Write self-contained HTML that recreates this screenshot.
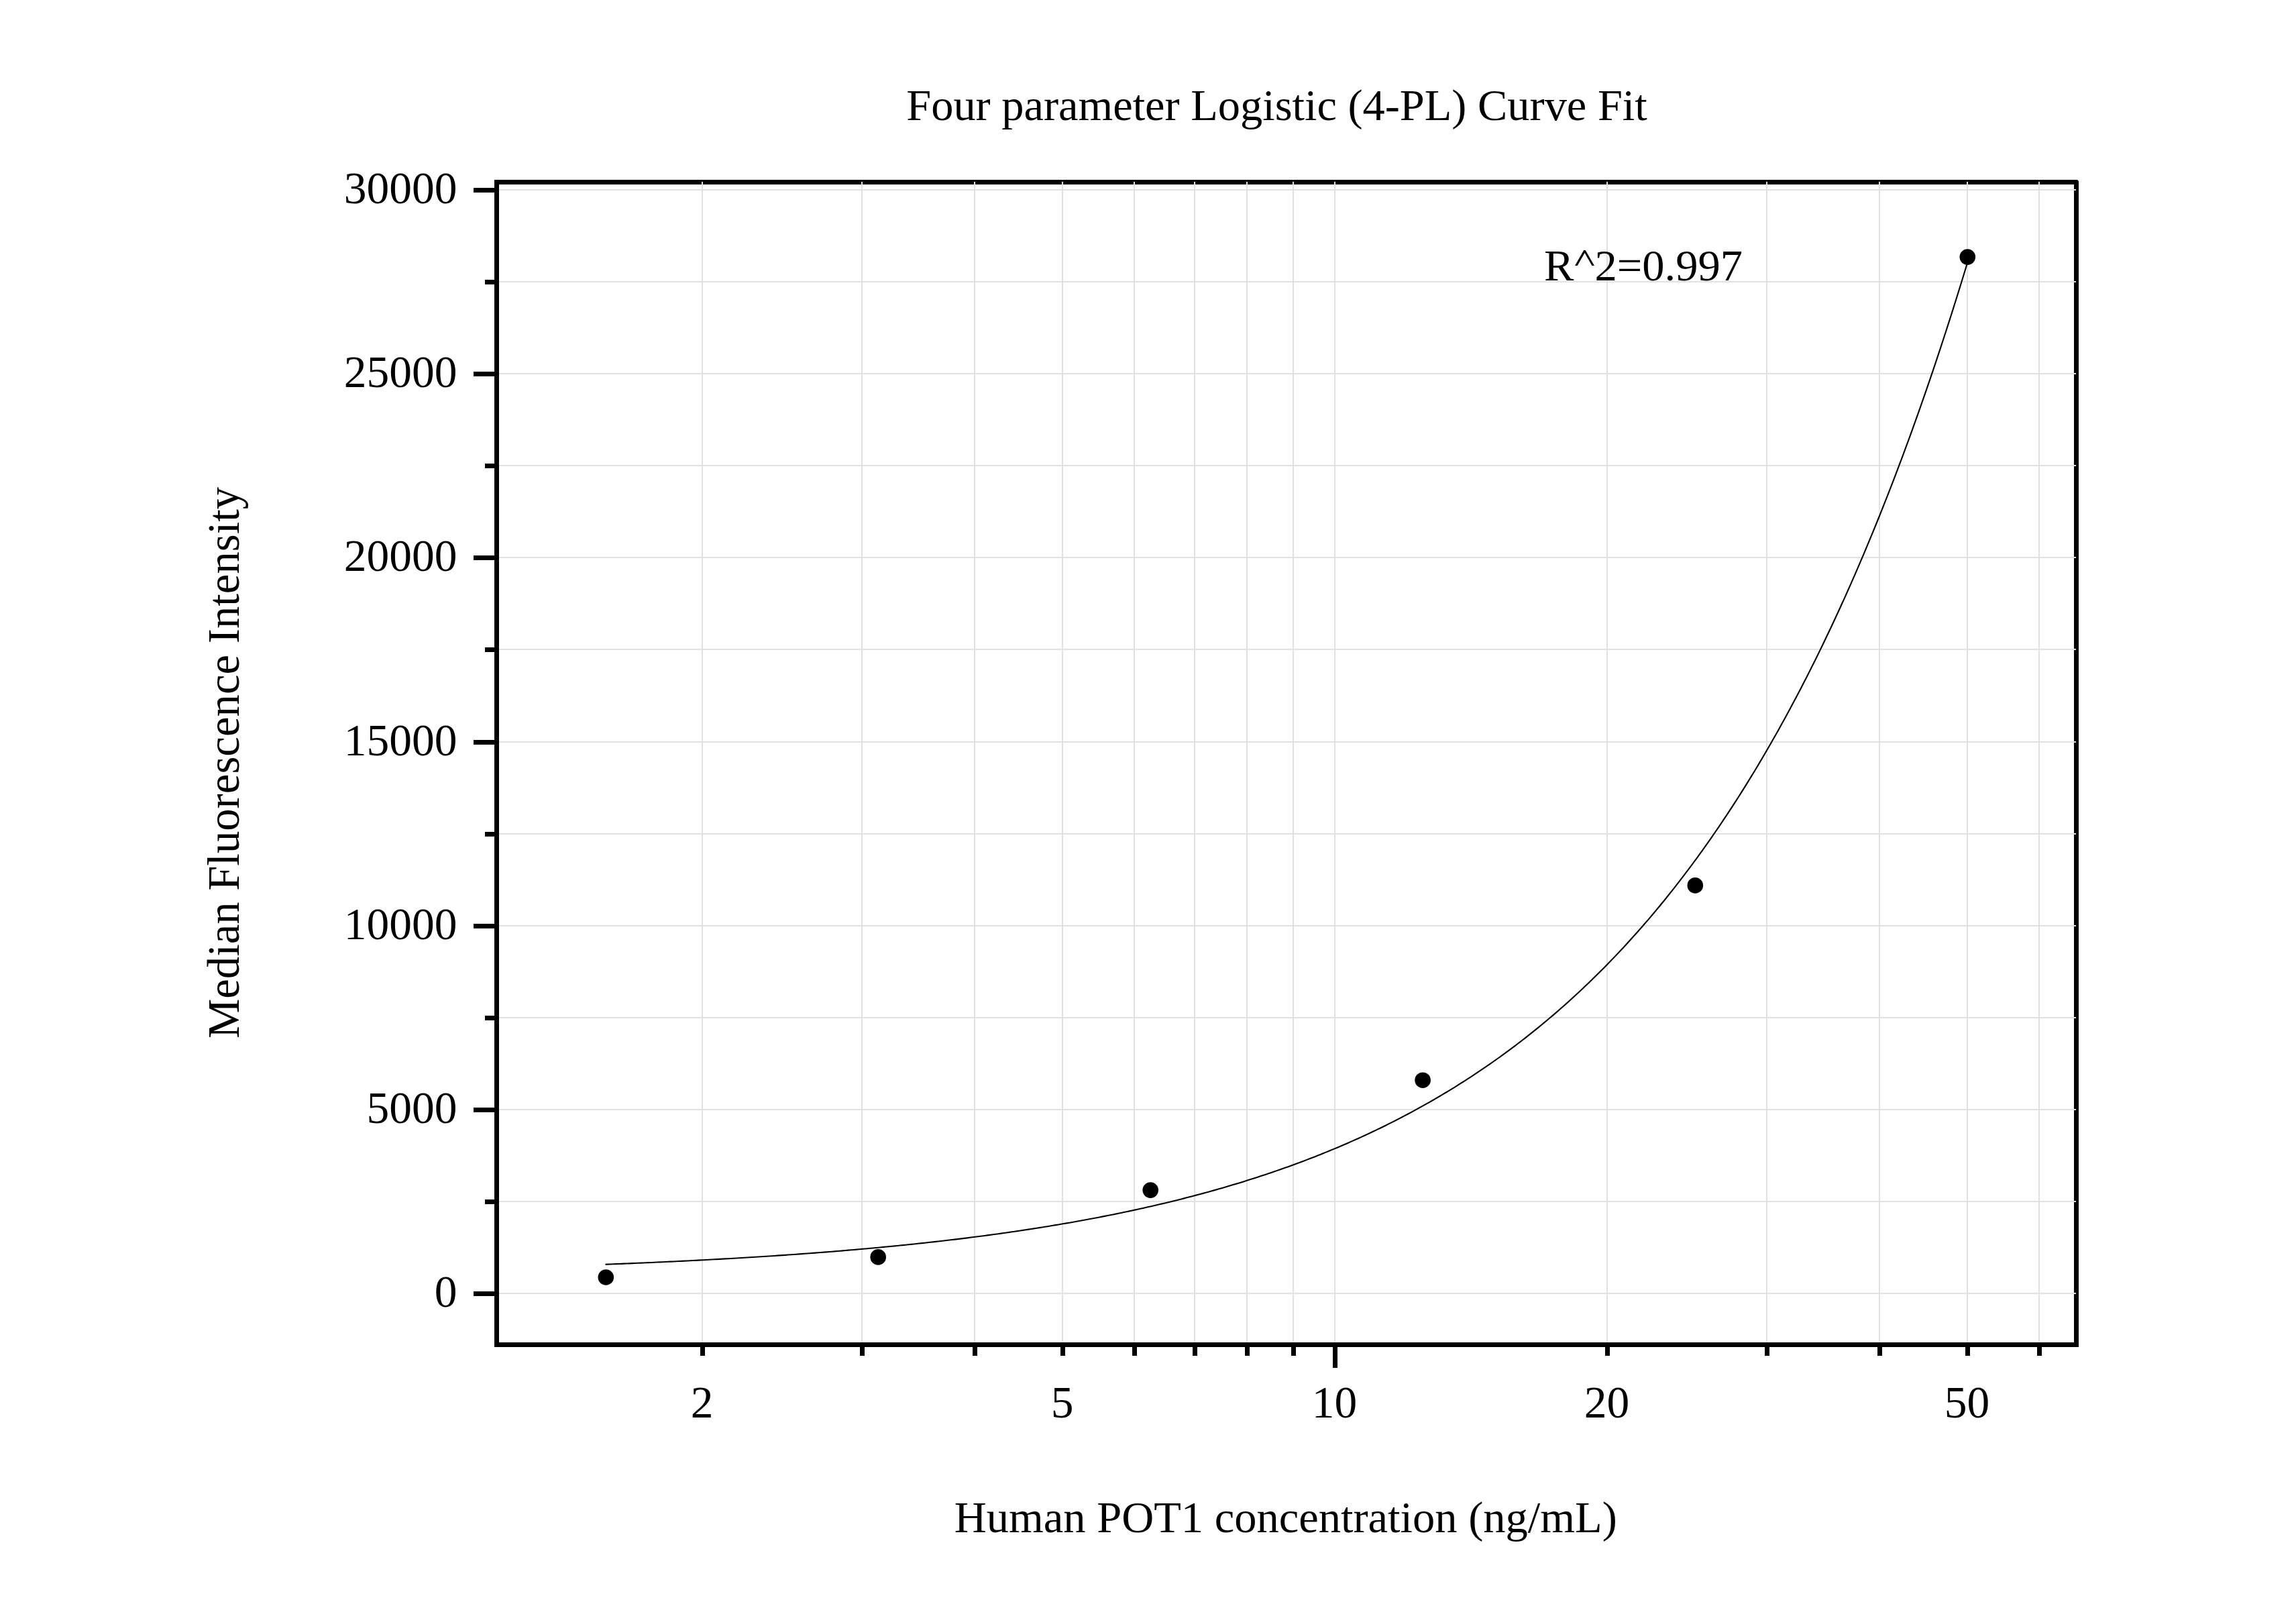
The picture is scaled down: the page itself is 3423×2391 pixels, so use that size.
<!DOCTYPE html><html><head><meta charset="utf-8"><style>html,body{margin:0;padding:0;background:#fff;overflow:hidden;}svg{display:block;}text{font-family:"Liberation Serif",serif;fill:#000;}</style></head><body>
<svg width="3423" height="2391" viewBox="0 0 3423 2391">
<rect width="3423" height="2391" fill="#fff"/>
<rect x="740.5" y="271.5" width="2355.0" height="1733.0" fill="none" stroke="#000" stroke-width="7" stroke-linejoin="miter"/>
<path d="M1047 271V2001M1285 271V2001M1453 271V2001M1584 271V2001M1691 271V2001M1781 271V2001M1859 271V2001M1928 271V2001M1990 271V2001M2396 271V2001M2634 271V2001M2802 271V2001M2933 271V2001M3040 271V2001M744 1928H3095M744 1791H3095M744 1654H3095M744 1517H3095M744 1380H3095M744 1243H3095M744 1106H3095M744 968H3095M744 831H3095M744 694H3095M744 557H3095M744 420H3095M744 283H3095" stroke="#e1e1e1" stroke-width="2" fill="none"/>
<polyline points="902.38,1884.78 906.45,1884.63 910.52,1884.47 914.59,1884.31 918.66,1884.15 922.73,1883.99 926.80,1883.83 930.87,1883.66 934.94,1883.50 939.01,1883.33 943.08,1883.16 947.15,1882.99 951.21,1882.82 955.28,1882.65 959.35,1882.47 963.42,1882.30 967.49,1882.12 971.56,1881.94 975.63,1881.76 979.70,1881.57 983.77,1881.39 987.84,1881.20 991.91,1881.01 995.98,1880.82 1000.05,1880.63 1004.12,1880.44 1008.19,1880.24 1012.25,1880.05 1016.32,1879.85 1020.39,1879.65 1024.46,1879.45 1028.53,1879.24 1032.60,1879.04 1036.67,1878.83 1040.74,1878.62 1044.81,1878.41 1048.88,1878.20 1052.95,1877.98 1057.02,1877.76 1061.09,1877.55 1065.16,1877.32 1069.23,1877.10 1073.29,1876.88 1077.36,1876.65 1081.43,1876.42 1085.50,1876.19 1089.57,1875.96 1093.64,1875.72 1097.71,1875.48 1101.78,1875.24 1105.85,1875.00 1109.92,1874.76 1113.99,1874.51 1118.06,1874.26 1122.13,1874.01 1126.20,1873.76 1130.27,1873.51 1134.33,1873.25 1138.40,1872.99 1142.47,1872.73 1146.54,1872.46 1150.61,1872.20 1154.68,1871.93 1158.75,1871.66 1162.82,1871.38 1166.89,1871.11 1170.96,1870.83 1175.03,1870.54 1179.10,1870.26 1183.17,1869.97 1187.24,1869.69 1191.31,1869.39 1195.37,1869.10 1199.44,1868.80 1203.51,1868.50 1207.58,1868.20 1211.65,1867.89 1215.72,1867.59 1219.79,1867.28 1223.86,1866.96 1227.93,1866.65 1232.00,1866.33 1236.07,1866.01 1240.14,1865.68 1244.21,1865.35 1248.28,1865.02 1252.35,1864.69 1256.41,1864.35 1260.48,1864.01 1264.55,1863.67 1268.62,1863.32 1272.69,1862.97 1276.76,1862.62 1280.83,1862.27 1284.90,1861.91 1288.97,1861.55 1293.04,1861.18 1297.11,1860.81 1301.18,1860.44 1305.25,1860.07 1309.32,1859.69 1313.39,1859.31 1317.45,1858.92 1321.52,1858.53 1325.59,1858.14 1329.66,1857.74 1333.73,1857.34 1337.80,1856.94 1341.87,1856.53 1345.94,1856.12 1350.01,1855.71 1354.08,1855.29 1358.15,1854.87 1362.22,1854.45 1366.29,1854.02 1370.36,1853.58 1374.43,1853.15 1378.49,1852.71 1382.56,1852.26 1386.63,1851.81 1390.70,1851.36 1394.77,1850.90 1398.84,1850.44 1402.91,1849.98 1406.98,1849.51 1411.05,1849.04 1415.12,1848.56 1419.19,1848.08 1423.26,1847.59 1427.33,1847.10 1431.40,1846.60 1435.47,1846.10 1439.53,1845.60 1443.60,1845.09 1447.67,1844.58 1451.74,1844.06 1455.81,1843.54 1459.88,1843.01 1463.95,1842.48 1468.02,1841.94 1472.09,1841.40 1476.16,1840.85 1480.23,1840.30 1484.30,1839.74 1488.37,1839.18 1492.44,1838.62 1496.51,1838.05 1500.57,1837.47 1504.64,1836.89 1508.71,1836.30 1512.78,1835.71 1516.85,1835.11 1520.92,1834.51 1524.99,1833.90 1529.06,1833.28 1533.13,1832.66 1537.20,1832.04 1541.27,1831.41 1545.34,1830.77 1549.41,1830.13 1553.48,1829.48 1557.55,1828.83 1561.61,1828.17 1565.68,1827.50 1569.75,1826.83 1573.82,1826.15 1577.89,1825.47 1581.96,1824.78 1586.03,1824.08 1590.10,1823.38 1594.17,1822.67 1598.24,1821.96 1602.31,1821.23 1606.38,1820.51 1610.45,1819.77 1614.52,1819.03 1618.59,1818.28 1622.65,1817.53 1626.72,1816.77 1630.79,1816.00 1634.86,1815.22 1638.93,1814.44 1643.00,1813.65 1647.07,1812.86 1651.14,1812.05 1655.21,1811.24 1659.28,1810.42 1663.35,1809.60 1667.42,1808.76 1671.49,1807.92 1675.56,1807.08 1679.63,1806.22 1683.69,1805.36 1687.76,1804.49 1691.83,1803.61 1695.90,1802.72 1699.97,1801.83 1704.04,1800.92 1708.11,1800.01 1712.18,1799.09 1716.25,1798.17 1720.32,1797.23 1724.39,1796.29 1728.46,1795.33 1732.53,1794.37 1736.60,1793.40 1740.67,1792.42 1744.73,1791.44 1748.80,1790.44 1752.87,1789.43 1756.94,1788.42 1761.01,1787.40 1765.08,1786.36 1769.15,1785.32 1773.22,1784.27 1777.29,1783.21 1781.36,1782.14 1785.43,1781.06 1789.50,1779.97 1793.57,1778.87 1797.64,1777.76 1801.71,1776.64 1805.77,1775.51 1809.84,1774.37 1813.91,1773.22 1817.98,1772.06 1822.05,1770.89 1826.12,1769.71 1830.19,1768.52 1834.26,1767.31 1838.33,1766.10 1842.40,1764.88 1846.47,1763.64 1850.54,1762.39 1854.61,1761.14 1858.68,1759.87 1862.75,1758.59 1866.81,1757.29 1870.88,1755.99 1874.95,1754.67 1879.02,1753.35 1883.09,1752.01 1887.16,1750.66 1891.23,1749.29 1895.30,1747.92 1899.37,1746.53 1903.44,1745.13 1907.51,1743.72 1911.58,1742.29 1915.65,1740.85 1919.72,1739.40 1923.79,1737.94 1927.85,1736.46 1931.92,1734.97 1935.99,1733.46 1940.06,1731.94 1944.13,1730.41 1948.20,1728.87 1952.27,1727.31 1956.34,1725.73 1960.41,1724.15 1964.48,1722.54 1968.55,1720.93 1972.62,1719.30 1976.69,1717.65 1980.76,1715.99 1984.83,1714.31 1988.89,1712.62 1992.96,1710.92 1997.03,1709.20 2001.10,1707.46 2005.17,1705.71 2009.24,1703.94 2013.31,1702.16 2017.38,1700.36 2021.45,1698.54 2025.52,1696.71 2029.59,1694.86 2033.66,1693.00 2037.73,1691.11 2041.80,1689.21 2045.87,1687.30 2049.93,1685.36 2054.00,1683.41 2058.07,1681.44 2062.14,1679.46 2066.21,1677.45 2070.28,1675.43 2074.35,1673.39 2078.42,1671.33 2082.49,1669.26 2086.56,1667.16 2090.63,1665.05 2094.70,1662.91 2098.77,1660.76 2102.84,1658.59 2106.91,1656.40 2110.97,1654.19 2115.04,1651.95 2119.11,1649.70 2123.18,1647.43 2127.25,1645.14 2131.32,1642.83 2135.39,1640.49 2139.46,1638.14 2143.53,1635.76 2147.60,1633.37 2151.67,1630.95 2155.74,1628.51 2159.81,1626.05 2163.88,1623.56 2167.95,1621.06 2172.01,1618.53 2176.08,1615.97 2180.15,1613.40 2184.22,1610.80 2188.29,1608.18 2192.36,1605.54 2196.43,1602.87 2200.50,1600.17 2204.57,1597.46 2208.64,1594.72 2212.71,1591.95 2216.78,1589.16 2220.85,1586.34 2224.92,1583.50 2228.99,1580.64 2233.05,1577.74 2237.12,1574.82 2241.19,1571.88 2245.26,1568.91 2249.33,1565.91 2253.40,1562.89 2257.47,1559.83 2261.54,1556.75 2265.61,1553.65 2269.68,1550.51 2273.75,1547.35 2277.82,1544.16 2281.89,1540.94 2285.96,1537.69 2290.03,1534.41 2294.09,1531.10 2298.16,1527.77 2302.23,1524.40 2306.30,1521.00 2310.37,1517.57 2314.44,1514.11 2318.51,1510.62 2322.58,1507.10 2326.65,1503.55 2330.72,1499.96 2334.79,1496.35 2338.86,1492.70 2342.93,1489.01 2347.00,1485.30 2351.07,1481.55 2355.13,1477.77 2359.20,1473.95 2363.27,1470.10 2367.34,1466.21 2371.41,1462.29 2375.48,1458.34 2379.55,1454.35 2383.62,1450.32 2387.69,1446.26 2391.76,1442.16 2395.83,1438.02 2399.90,1433.85 2403.97,1429.64 2408.04,1425.39 2412.11,1421.10 2416.17,1416.78 2420.24,1412.41 2424.31,1408.01 2428.38,1403.57 2432.45,1399.08 2436.52,1394.56 2440.59,1390.00 2444.66,1385.39 2448.73,1380.75 2452.80,1376.06 2456.87,1371.33 2460.94,1366.56 2465.01,1361.74 2469.08,1356.88 2473.15,1351.98 2477.21,1347.04 2481.28,1342.05 2485.35,1337.01 2489.42,1331.93 2493.49,1326.81 2497.56,1321.64 2501.63,1316.42 2505.70,1311.15 2509.77,1305.84 2513.84,1300.48 2517.91,1295.08 2521.98,1289.62 2526.05,1284.11 2530.12,1278.56 2534.19,1272.96 2538.26,1267.30 2542.32,1261.60 2546.39,1255.84 2550.46,1250.03 2554.53,1244.17 2558.60,1238.26 2562.67,1232.30 2566.74,1226.28 2570.81,1220.20 2574.88,1214.08 2578.95,1207.90 2583.02,1201.66 2587.09,1195.36 2591.16,1189.02 2595.23,1182.61 2599.30,1176.14 2603.36,1169.62 2607.43,1163.04 2611.50,1156.40 2615.57,1149.70 2619.64,1142.95 2623.71,1136.13 2627.78,1129.25 2631.85,1122.30 2635.92,1115.30 2639.99,1108.23 2644.06,1101.10 2648.13,1093.91 2652.20,1086.65 2656.27,1079.33 2660.34,1071.94 2664.40,1064.48 2668.47,1056.96 2672.54,1049.37 2676.61,1041.72 2680.68,1033.99 2684.75,1026.20 2688.82,1018.33 2692.89,1010.40 2696.96,1002.39 2701.03,994.31 2705.10,986.16 2709.17,977.94 2713.24,969.64 2717.31,961.27 2721.38,952.83 2725.44,944.31 2729.51,935.71 2733.58,927.04 2737.65,918.29 2741.72,909.46 2745.79,900.55 2749.86,891.56 2753.93,882.49 2758.00,873.34 2762.07,864.11 2766.14,854.80 2770.21,845.40 2774.28,835.92 2778.35,826.35 2782.42,816.70 2786.48,806.97 2790.55,797.14 2794.62,787.23 2798.69,777.23 2802.76,767.14 2806.83,756.96 2810.90,746.69 2814.97,736.32 2819.04,725.87 2823.11,715.32 2827.18,704.68 2831.25,693.94 2835.32,683.11 2839.39,672.18 2843.46,661.15 2847.52,650.02 2851.59,638.80 2855.66,627.47 2859.73,616.04 2863.80,604.52 2867.87,592.89 2871.94,581.15 2876.01,569.31 2880.08,557.37 2884.15,545.31 2888.22,533.15 2892.29,520.89 2896.36,508.51 2900.43,496.02 2904.50,483.42 2908.56,470.71 2912.63,457.89 2916.70,444.95 2920.77,431.90 2924.84,418.73 2928.91,405.44 2932.98,392.04" stroke="#000" stroke-width="2.1" fill="none" stroke-linejoin="round"/>
<circle cx="903.3" cy="1904.0" r="11.8" fill="#000"/>
<circle cx="1309.2" cy="1873.9" r="11.8" fill="#000"/>
<circle cx="1715.2" cy="1774.1" r="11.8" fill="#000"/>
<circle cx="2121.1" cy="1610.2" r="11.8" fill="#000"/>
<circle cx="2527.3" cy="1319.9" r="11.8" fill="#000"/>
<circle cx="2933.3" cy="383.1" r="11.8" fill="#000"/>
<path d="M737 1928.5H706M737 1791.5H723M737 1654.5H706M737 1517.5H723M737 1380.5H706M737 1243.5H723M737 1106.5H706M737 968.5H723M737 831.5H706M737 694.5H723M737 557.5H706M737 420.5H723M737 283.5H706M1047.5 2008V2021M1285.5 2008V2021M1453.5 2008V2021M1584.5 2008V2021M1691.5 2008V2021M1781.5 2008V2021M1859.5 2008V2021M1928.5 2008V2021M1990.5 2008V2039M2396.5 2008V2021M2634.5 2008V2021M2802.5 2008V2021M2933.5 2008V2021M3040.5 2008V2021" stroke="#000" stroke-width="7" fill="none"/>
<path d="M3095.6 267.5H3099.5V271.8C3098.9 269.6 3097.8 268.1 3095.6 267.5Z" fill="#fff"/>
<text transform="translate(681.6 1948) scale(1 1.0)" font-size="67.5" text-anchor="end">0</text>
<text transform="translate(681.6 1674) scale(1 1.0)" font-size="67.5" text-anchor="end">5000</text>
<text transform="translate(681.6 1400) scale(1 1.0)" font-size="67.5" text-anchor="end">10000</text>
<text transform="translate(681.6 1126) scale(1 1.0)" font-size="67.5" text-anchor="end">15000</text>
<text transform="translate(681.6 851) scale(1 1.0)" font-size="67.5" text-anchor="end">20000</text>
<text transform="translate(681.6 577) scale(1 1.0)" font-size="67.5" text-anchor="end">25000</text>
<text transform="translate(681.6 303) scale(1 1.0)" font-size="67.5" text-anchor="end">30000</text>
<text transform="translate(1046.5 2112.8) scale(1 1.0)" font-size="67.5" text-anchor="middle">2</text>
<text transform="translate(1583.5 2112.8) scale(1 1.0)" font-size="67.5" text-anchor="middle">5</text>
<text transform="translate(1989.5 2112.8) scale(1 1.0)" font-size="67.5" text-anchor="middle">10</text>
<text transform="translate(2395.5 2112.8) scale(1 1.0)" font-size="67.5" text-anchor="middle">20</text>
<text transform="translate(2932.5 2112.8) scale(1 1.0)" font-size="67.5" text-anchor="middle">50</text>
<text x="1903.5" y="179" font-size="66.4" text-anchor="middle">Four parameter Logistic (4-PL) Curve Fit</text>
<text x="1916.8" y="2284.2" font-size="66.5" text-anchor="middle">Human POT1 concentration (ng/mL)</text>
<text x="0" y="0" font-size="66.7" text-anchor="middle" transform="translate(356.1 1137) rotate(-90)">Median Fluorescence Intensity</text>
<text x="2302" y="417.7" font-size="66.5">R</text>
<text x="2377.56" y="417.7" font-size="66.5">2=0.997</text>
<path d="M2348.0 396L2361.2 373H2363.7L2376.9 396H2373.4L2362.55 377.1L2351.7 396Z" fill="#000"/>
</svg></body></html>
